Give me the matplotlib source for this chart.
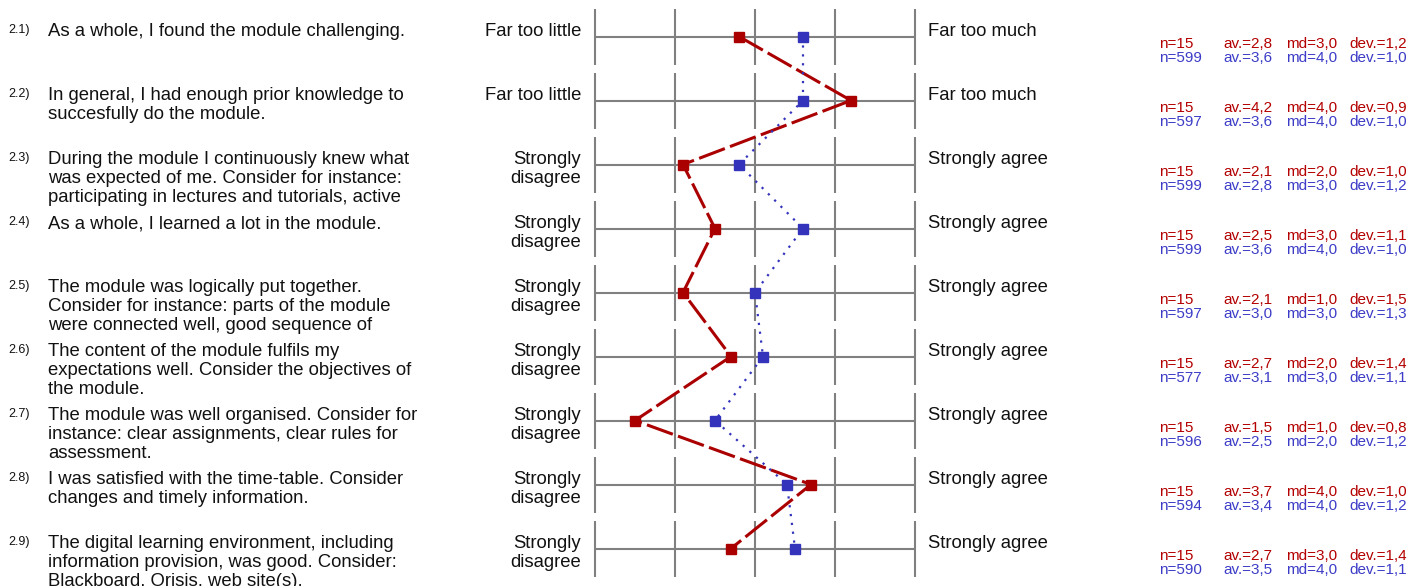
import matplotlib
matplotlib.use("Agg")
import matplotlib.pyplot as plt
import matplotlib.transforms as mtransforms

plt.rcParams['font.family'] = ['Liberation Sans', 'DejaVu Sans']

# ---------------- data ----------------
numbers = ["2.1)", "2.2)", "2.3)", "2.4)", "2.5)", "2.6)", "2.7)", "2.8)", "2.9)"]
questions = [
    "As a whole, I found the module challenging.",
    "In general, I had enough prior knowledge to\nsuccesfully do the module.",
    "During the module I continuously knew what\nwas expected of me. Consider for instance:\nparticipating in lectures and tutorials, active",
    "As a whole, I learned a lot in the module.",
    "The module was logically put together.\nConsider for instance: parts of the module\nwere connected well, good sequence of",
    "The content of the module fulfils my\nexpectations well. Consider the objectives of\nthe module.",
    "The module was well organised. Consider for\ninstance: clear assignments, clear rules for\nassessment.",
    "I was satisfied with the time-table. Consider\nchanges and timely information.",
    "The digital learning environment, including\ninformation provision, was good. Consider:\nBlackboard, Orisis, web site(s).",
]
left_labels = ["Far too little", "Far too little"] + ["Strongly\ndisagree"] * 7
right_labels = ["Far too much", "Far too much"] + ["Strongly agree"] * 7

scale_ticks = [1, 2, 3, 4, 5]

red_n = [15, 15, 15, 15, 15, 15, 15, 15, 15]
red_av = [2.8, 4.2, 2.1, 2.5, 2.1, 2.7, 1.5, 3.7, 2.7]
red_md = [3.0, 4.0, 2.0, 3.0, 1.0, 2.0, 1.0, 4.0, 3.0]
red_dev = [1.2, 0.9, 1.0, 1.1, 1.5, 1.4, 0.8, 1.0, 1.4]

blue_n = [599, 597, 599, 599, 597, 577, 596, 594, 590]
blue_av = [3.6, 3.6, 2.8, 3.6, 3.0, 3.1, 2.5, 3.4, 3.5]
blue_md = [4.0, 4.0, 3.0, 4.0, 3.0, 3.0, 2.0, 4.0, 4.0]
blue_dev = [1.0, 1.0, 1.2, 1.0, 1.3, 1.1, 1.2, 1.2, 1.1]

# ---------------- styles ----------------
W, H = 1410, 586
ROW0, ROWSTEP = 36.5, 64.0
RED = "#AA0000"
BLUE = "#3333BB"
RED_TXT = "#B40000"
BLUE_TXT = "#3C3CC8"
GRID = "#808080"

fig = plt.figure(figsize=(W / 100, H / 100), dpi=100)
ax = fig.add_axes([595 / W, 0, 320 / W, 1])
ax.set_xlim(1, 5)
ax.set_ylim((H - ROW0) / ROWSTEP, -ROW0 / ROWSTEP)
ax.axis('off')

rows = list(range(len(questions)))

# grid
ax.hlines(rows, scale_ticks[0], scale_ticks[-1], colors=GRID, lw=1.5, zorder=1, clip_on=False)
for r in rows:
    ax.vlines(scale_ticks, r - 27.5 / ROWSTEP, r + 28 / ROWSTEP, colors=GRID, lw=1.5,
              zorder=1, clip_on=False)

# profile lines
ax.plot(red_av, rows, color=RED, lw=2.2, dashes=(9, 1.8), zorder=3, clip_on=False)
ax.plot(blue_av, rows, color=BLUE, lw=1.6, dashes=(1, 3), zorder=3, clip_on=False)
ax.plot(red_av, rows, ls='none', marker='s', ms=6.5, color=RED, zorder=4, clip_on=False)
ax.plot(blue_av, rows, ls='none', marker='s', ms=6.5, color=BLUE, zorder=4, clip_on=False)

trans = mtransforms.blended_transform_factory(fig.transFigure, ax.transData)

def fmt(v):
    return f"{v:.1f}".replace('.', ',')

QFS = 13.35
LS = 1.15
for r in rows:
    ytop = r - 13 / ROWSTEP
    ax.text(8 / W, r - 3.5 / ROWSTEP, numbers[r], transform=trans, fontsize=9, va='baseline',
            ha='left', color='#111111')
    ax.text(48 / W, ytop, questions[r], transform=trans, fontsize=QFS, va='top', ha='left',
            linespacing=LS, color='#111111')
    ax.text(581 / W, ytop, left_labels[r], transform=trans, fontsize=QFS, va='top', ha='right',
            multialignment='right', linespacing=LS, color='#111111')
    ax.text(928 / W, ytop, right_labels[r], transform=trans, fontsize=QFS, va='top', ha='left',
            color='#111111')
    yr = r + 12 / ROWSTEP
    yb = r + 26 / ROWSTEP
    for yy, col, n, av, md, dv in ((yr, RED_TXT, red_n[r], red_av[r], red_md[r], red_dev[r]),
                                   (yb, BLUE_TXT, blue_n[r], blue_av[r], blue_md[r], blue_dev[r])):
        ax.text(1159 / W, yy, f"n={n}", transform=trans, fontsize=11, color=col, va='baseline')
        ax.text(1223 / W, yy, f"av.={fmt(av)}", transform=trans, fontsize=11, color=col, va='baseline')
        ax.text(1286 / W, yy, f"md={fmt(md)}", transform=trans, fontsize=11, color=col, va='baseline')
        ax.text(1349 / W, yy, f"dev.={fmt(dv)}", transform=trans, fontsize=11, color=col, va='baseline')

fig.savefig("out.png", dpi=100)
